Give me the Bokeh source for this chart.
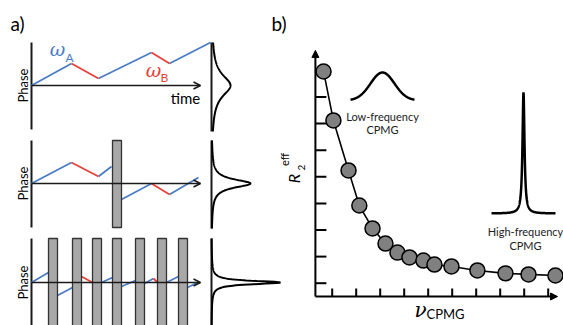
import numpy as np
from bokeh.plotting import figure
from bokeh.models import Range1d, Arrow, OpenHead, NormalHead
from bokeh.core.properties import value
from bokeh.embed import file_html
from bokeh.resources import INLINE

# ---------------- data ----------------
# panel a: phase trajectories, segments (t0, phase0, t1, phase1, state)
row1_segs = [(0, 0, 40, 22, "A"), (40, 22, 67, 7, "B"), (67, 7, 120, 33, "A"),
             (120, 33, 138, 22, "B"), (138, 22, 179, 43, "A")]
row2_segs = [(0, 0, 40, 21, "A"), (40, 21, 67, 7, "B"), (67, 7, 80, 17, "A"),
             (90, -16, 120, 0, "A"), (120, 0, 138, -11, "B"), (138, -11, 167, 6, "A")]
row3_segs = [(0, 0, 17, 10, "A"), (26, -13, 41, -5, "A"), (50, 6, 61, 0, "B"),
             (70, 0, 81, 5, "A"), (90, -4, 104, 2, "A"), (113, -1, 122, 4, "A"),
             (122, 4, 126, 0, "B"), (135, 0, 147, 6, "A"), (156, -5, 166, 0, "A")]
row2_pulses = [85.5]
row3_pulses = [21.5, 45.5, 65.5, 85.5, 108.5, 130.5, 151.5]
# resulting lineshapes: Lorentzian half-width and height per row
line_widths = [13, 5, 2.1]
line_heights = [19, 39, 69]

# panel b: relaxation dispersion
nu_cpmg = [0.64, 1.05, 1.68, 2.13, 2.68, 3.22, 3.72, 4.22, 4.80, 5.26, 5.97, 7.05, 8.22, 9.18, 10.30]
r2_eff = [8.96, 7.12, 5.24, 3.92, 3.06, 2.49, 2.15, 1.97, 1.85, 1.70, 1.63, 1.48, 1.37, 1.33, 1.29]
nu_ticks = [1, 2, 3, 4, 5, 6, 7, 8, 9, 10]
r2_ticks = [1, 2, 3, 4, 5, 6, 7, 8]

# ---------------- layout / style ----------------
W, H = 563, 325
BLUE = "#4a7cc4"
RED = "#e8403a"
SANS = "Lato"
SERIF = "DejaVu Serif"

p = figure(width=W, height=H, x_range=Range1d(0, W), y_range=Range1d(H, 0),
           output_backend="svg", toolbar_location=None, min_border=0,
           x_axis_type=None, y_axis_type=None)
p.grid.visible = False
p.outline_line_color = None
p.background_fill_color = "white"
p.border_fill_color = "white"

# panel b scales
bx0, bsx = 307.7, 24.0
by0, bsy = 309.3, 26.6
p.extra_x_ranges = {"nu": Range1d(-bx0 / bsx, (W - bx0) / bsx)}
p.extra_y_ranges = {"r2": Range1d((by0 - H) / bsy, by0 / bsy)}


def txt(x, y, s, size, color="black", font=SANS, style="normal", angle=0.0,
        align="center", baseline="middle", **kw):
    p.text(x=[x], y=[y], text=[s], text_font=value(font),
           text_font_size=value(f"{size}px"), text_font_style=value(style),
           text_color=color, angle=angle, text_align=align,
           text_baseline=baseline, **kw)


# ---------------- panel a ----------------
X0 = 31
XS = 211
row_base = [85, 183, 282]
row_span = [(42, 129), (140, 227), (238, 325)]
spec_span = [(42, 131), (140, 228), (238, 325)]
rows = [row1_segs, row2_segs, row3_segs]
pulses = [[], row2_pulses, row3_pulses]
pulse_top = [None, 140, 238]
pulse_bot = [None, 227, 330]

for i in range(3):
    yb = row_base[i]
    # vertical phase axis
    p.segment(x0=[X0], y0=[row_span[i][0]], x1=[X0], y1=[row_span[i][1]],
              line_color="#1a1a1a", line_width=2)
    # time arrow
    p.add_layout(Arrow(end=OpenHead(size=7, line_width=1.6, line_color="#1a1a1a"),
                       x_start=X0, y_start=yb, x_end=200, y_end=yb,
                       line_width=1.6, line_color="#1a1a1a"))
    segs = rows[i]
    for st, col in (("A", BLUE), ("B", RED)):
        ss = [s for s in segs if s[4] == st]
        p.segment(x0=[X0 + s[0] for s in ss], y0=[yb - s[1] for s in ss],
                  x1=[X0 + s[2] for s in ss], y1=[yb - s[3] for s in ss],
                  line_color=col, line_width=1.8)
    # pulses
    if pulses[i]:
        p.quad(left=[X0 + t - 4.5 for t in pulses[i]], right=[X0 + t + 4.5 for t in pulses[i]],
               top=[pulse_top[i]] * len(pulses[i]), bottom=[pulse_bot[i]] * len(pulses[i]),
               fill_color="#a8a8a8", line_color="#333333", line_width=1.3)
    # spectrum baseline
    p.segment(x0=[XS], y0=[spec_span[i][0]], x1=[XS], y1=[spec_span[i][1]],
              line_color="#1a1a1a", line_width=2)
    # lineshape
    d = np.linspace(spec_span[i][0] - yb, spec_span[i][1] - yb, 300)
    g = line_widths[i]
    p.line(x=XS + line_heights[i] * g ** 2 / (d ** 2 + g ** 2), y=yb + d,
           line_color="black", line_width=2)
    txt(22, yb, "Phase", 13, angle=np.pi / 2)

txt(10, 23, "a)", 19, align="left")
txt(185, 97, "time", 15)
txt(57, 48, "ω", 19, color=BLUE, font=SERIF, style="italic")
txt(69, 57, "A", 12, color=BLUE)
txt(153, 69, "ω", 19, color=RED, font=SERIF, style="italic")
txt(164, 77, "B", 12, color=RED)

# ---------------- panel b ----------------
xa, ya = 0.3, 0.5
p.add_layout(Arrow(end=NormalHead(size=7, fill_color="black", line_color="black"),
                   x_start=xa, y_start=ya, x_end=xa, y_end=9.75,
                   x_range_name="nu", y_range_name="r2", line_width=2, line_color="black"))
p.add_layout(Arrow(end=NormalHead(size=7, fill_color="black", line_color="black"),
                   x_start=xa, y_start=ya, x_end=10.39, y_end=ya,
                   x_range_name="nu", y_range_name="r2", line_width=2, line_color="black"))
p.segment(x0=[xa] * len(r2_ticks), y0=r2_ticks, x1=[xa + 11 / bsx] * len(r2_ticks), y1=r2_ticks,
          x_range_name="nu", y_range_name="r2", line_color="black", line_width=2)
p.segment(x0=nu_ticks, y0=[ya] * len(nu_ticks), x1=nu_ticks, y1=[ya + 8 / bsy] * len(nu_ticks),
          x_range_name="nu", y_range_name="r2", line_color="black", line_width=2)
p.line(x=nu_cpmg, y=r2_eff, x_range_name="nu", y_range_name="r2",
       line_color="black", line_width=1.6)
p.scatter(x=nu_cpmg, y=r2_eff, x_range_name="nu", y_range_name="r2", size=15,
          fill_color="#808080", line_color="black", line_width=1.5)

# inset lineshapes
dl = np.linspace(-32, 32, 200)
p.line(x=382 + dl, y=100 - 28 * np.exp(-dl ** 2 / (2 * 12 ** 2)), line_color="black", line_width=2.5)
dh = np.linspace(-32, 32, 801)
p.line(x=523 + dh, y=213 - 121 * 1.2 ** 2 / (dh ** 2 + 1.2 ** 2), line_color="black", line_width=2.5)

txt(271, 23, "b)", 19, align="left")
txt(382, 116, "Low-frequency", 11, color="#222222")
txt(382, 129, "CPMG", 11, color="#222222")
txt(525, 231, "High-frequency", 11, color="#222222")
txt(525, 245, "CPMG", 11, color="#222222")
txt(420, 309, "ν", 20, font=SERIF, style="italic")
txt(426, 313, "CPMG", 13, align="left")
txt(293, 178, "R", 16, style="italic", angle=np.pi / 2)
txt(301, 167, "2", 10, angle=np.pi / 2)
txt(284, 159, "eff", 11, angle=np.pi / 2)

open("out.html", "w").write(file_html(p, INLINE))
